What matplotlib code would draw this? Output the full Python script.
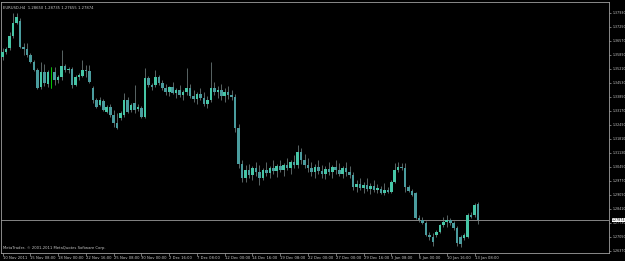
"""
EURUSD,H4 candles in the MetaTrader look: black background, price scale on the right.
"""

import numpy as np
import matplotlib.pyplot as plt

# OHLC values, oldest bar first (138 bars)
opens = [
    # bars 0-45
    1.3579, 1.3603, 1.3623, 1.3681, 1.3744, 1.3754, 1.3628, 1.3618, 1.3589, 1.3555,
    1.3516, 1.3433, 1.3506, 1.3448, 1.3492, 1.3506, 1.3467, 1.3482, 1.3535, 1.3516,
    1.3521, 1.3443, 1.3482, 1.3487, 1.3516, 1.3511, 1.3429, 1.3370, 1.3346, 1.3365,
    1.3312, 1.3336, 1.3297, 1.3258, 1.3283, 1.3297, 1.3370, 1.3322, 1.3356, 1.3326,
    1.3331, 1.3288, 1.3477, 1.3443, 1.3443, 1.3482,
    # bars 46-108
    1.3453, 1.3429, 1.3409, 1.3433, 1.3404, 1.3419, 1.3394, 1.3409, 1.3429, 1.3390,
    1.3375, 1.3399, 1.3380, 1.3351, 1.3370, 1.3429, 1.3409, 1.3419, 1.3390, 1.3409,
    1.3394, 1.3385, 1.3234, 1.3059, 1.2991, 1.3030, 1.3006, 1.3040, 1.3020, 1.2991,
    1.3030, 1.3015, 1.3040, 1.3025, 1.3049, 1.3030, 1.3054, 1.3040, 1.3069, 1.3054,
    1.3118, 1.3079, 1.3054, 1.3040, 1.3020, 1.3045, 1.3025, 1.3011, 1.3035, 1.3020,
    1.3045, 1.3030, 1.3011, 1.3040, 1.3020, 1.3006, 1.2947, 1.2962, 1.2943, 1.2957,
    1.2938, 1.2952, 1.2933,
    # bars 109-137
    1.2938, 1.2918, 1.2933, 1.2923, 1.2972, 1.3030, 1.3045, 1.3040, 1.2947, 1.2928,
    1.2918, 1.2797, 1.2787, 1.2772, 1.2714, 1.2705, 1.2714, 1.2729, 1.2763, 1.2777,
    1.2787, 1.2772, 1.2748, 1.2705, 1.2700, 1.2705, 1.2811, 1.2811, 1.28650,
]
highs = [
    # bars 0-45
    1.3623, 1.3628, 1.3701, 1.3793, 1.3793, 1.3769, 1.3647, 1.3647, 1.3599, 1.3565,
    1.3526, 1.3555, 1.3545, 1.3516, 1.3531, 1.3531, 1.3492, 1.3613, 1.3545, 1.3531,
    1.3531, 1.3492, 1.3501, 1.3565, 1.3540, 1.3540, 1.3438, 1.3380, 1.3385, 1.3375,
    1.3346, 1.3351, 1.3322, 1.3307, 1.3317, 1.3404, 1.3385, 1.3356, 1.3443, 1.3351,
    1.3341, 1.3526, 1.3487, 1.3453, 1.3516, 1.3492,
    # bars 46-108
    1.3467, 1.3448, 1.3438, 1.3458, 1.3429, 1.3443, 1.3419, 1.3526, 1.3448, 1.3419,
    1.3409, 1.3429, 1.3409, 1.3390, 1.3555, 1.3458, 1.3438, 1.3448, 1.3429, 1.3438,
    1.3419, 1.3399, 1.3254, 1.3079, 1.3054, 1.3059, 1.3049, 1.3069, 1.3054, 1.3040,
    1.3069, 1.3049, 1.3079, 1.3059, 1.3079, 1.3064, 1.3088, 1.3079, 1.3103, 1.3152,
    1.3137, 1.3108, 1.3088, 1.3069, 1.3059, 1.3079, 1.3054, 1.3049, 1.3069, 1.3054,
    1.3079, 1.3064, 1.3049, 1.3069, 1.3049, 1.3020, 1.2981, 1.2991, 1.2972, 1.2991,
    1.2967, 1.2981, 1.2962,
    # bars 109-137
    1.2952, 1.2967, 1.2947, 1.2981, 1.3064, 1.3069, 1.3064, 1.3064, 1.2957, 1.2938,
    1.2923, 1.2811, 1.2802, 1.2782, 1.2729, 1.2724, 1.2739, 1.2768, 1.2802, 1.2811,
    1.2797, 1.2782, 1.2758, 1.2714, 1.2724, 1.2821, 1.2826, 1.2870, 1.28735,
]
lows = [
    # bars 0-45
    1.3565, 1.3594, 1.3613, 1.3671, 1.3740, 1.3623, 1.3589, 1.3579, 1.3550, 1.3511,
    1.3424, 1.3424, 1.3438, 1.3433, 1.3429, 1.3443, 1.3453, 1.3467, 1.3506, 1.3501,
    1.3429, 1.3438, 1.3467, 1.3482, 1.3482, 1.3453, 1.3356, 1.3331, 1.3341, 1.3317,
    1.3307, 1.3288, 1.3239, 1.3229, 1.3273, 1.3288, 1.3307, 1.3312, 1.3307, 1.3317,
    1.3283, 1.3283, 1.3433, 1.3419, 1.3433, 1.3443,
    # bars 46-108
    1.3419, 1.3394, 1.3390, 1.3399, 1.3380, 1.3385, 1.3370, 1.3394, 1.3380, 1.3360,
    1.3351, 1.3370, 1.3341, 1.3331, 1.3360, 1.3394, 1.3380, 1.3370, 1.3360, 1.3375,
    1.3370, 1.3215, 1.3040, 1.2972, 1.2972, 1.2991, 1.2981, 1.3001, 1.2957, 1.2981,
    1.3001, 1.2991, 1.3011, 1.2996, 1.3020, 1.3001, 1.3030, 1.3011, 1.3040, 1.3040,
    1.3059, 1.3040, 1.3020, 1.3001, 1.2991, 1.3011, 1.2991, 1.2986, 1.3006, 1.2991,
    1.3011, 1.3001, 1.2991, 1.3001, 1.2991, 1.2933, 1.2923, 1.2933, 1.2918, 1.2928,
    1.2913, 1.2923, 1.2918,
    # bars 109-137
    1.2913, 1.2908, 1.2918, 1.2918, 1.2967, 1.3020, 1.3030, 1.2923, 1.2923, 1.2904,
    1.2792, 1.2777, 1.2768, 1.2709, 1.2690, 1.2661, 1.2705, 1.2724, 1.2753, 1.2753,
    1.2763, 1.2739, 1.2661, 1.2656, 1.2690, 1.2700, 1.2797, 1.2802, 1.27655,
]
closes = [
    # bars 0-45
    1.3603, 1.3618, 1.3681, 1.3744, 1.3774, 1.3628, 1.3618, 1.3589, 1.3555, 1.3516,
    1.3429, 1.3506, 1.3453, 1.3506, 1.3492, 1.3467, 1.3482, 1.3535, 1.3516, 1.3521,
    1.3443, 1.3482, 1.3492, 1.3516, 1.3511, 1.3458, 1.3370, 1.3336, 1.3370, 1.3322,
    1.3336, 1.3297, 1.3258, 1.3234, 1.3307, 1.3370, 1.3312, 1.3346, 1.3322, 1.3336,
    1.3288, 1.3477, 1.3443, 1.3433, 1.3482, 1.3453,
    # bars 46-108
    1.3429, 1.3409, 1.3433, 1.3404, 1.3419, 1.3394, 1.3409, 1.3429, 1.3390, 1.3375,
    1.3399, 1.3380, 1.3351, 1.3370, 1.3429, 1.3409, 1.3419, 1.3390, 1.3409, 1.3394,
    1.3385, 1.3234, 1.3059, 1.2991, 1.3030, 1.3006, 1.3040, 1.3020, 1.2991, 1.3030,
    1.3015, 1.3040, 1.3025, 1.3049, 1.3030, 1.3054, 1.3040, 1.3069, 1.3054, 1.3118,
    1.3079, 1.3054, 1.3040, 1.3020, 1.3045, 1.3025, 1.3011, 1.3035, 1.3020, 1.3045,
    1.3030, 1.3011, 1.3040, 1.3020, 1.3006, 1.2947, 1.2962, 1.2943, 1.2957, 1.2938,
    1.2952, 1.2933, 1.2943,
    # bars 109-137
    1.2918, 1.2933, 1.2923, 1.2972, 1.3030, 1.3045, 1.3040, 1.2947, 1.2928, 1.2908,
    1.2797, 1.2787, 1.2772, 1.2714, 1.2705, 1.2680, 1.2729, 1.2763, 1.2777, 1.2787,
    1.2772, 1.2748, 1.2676, 1.2671, 1.2714, 1.2811, 1.2802, 1.2860, 1.27874,
]

time_labels = [
    "10 Nov 2011", "15 Nov 08:00", "18 Nov 00:00", "22 Nov 16:00", "25 Nov 08:00",
    "30 Nov 00:00", "2 Dec 16:00", "7 Dec 08:00", "12 Dec 00:00", "14 Dec 16:00",
    "19 Dec 08:00", "22 Dec 00:00", "27 Dec 00:00", "29 Dec 16:00", "3 Jan 08:00",
    "6 Jan 00:00", "10 Jan 16:00", "13 Jan 08:00",
]
price_ticks = [
    1.37930, 1.37250, 1.36570, 1.35890, 1.35210, 1.34530, 1.33850, 1.33170, 1.32490,
    1.31810, 1.31130, 1.30450, 1.29770, 1.29090, 1.28410, 1.27730, 1.27050, 1.26370,
]

symbol = "EURUSD,H4"
bars_per_label = 8

BG = "#000000"
FG = "#c8c8c8"
FRAME = "#a0a0a0"
BULL = "#46c6a6"
BEAR = "#4a9c9e"
WICK = "#7c8c8c"
DOJI = "#00c800"
FS = 2.7
FS_Y = 2.35

o = np.array(opens)
h = np.array(highs)
l = np.array(lows)
c = np.array(closes)
x = np.arange(len(o))

fig = plt.figure(figsize=(6.25, 2.61), dpi=100, facecolor=BG)
ax = fig.add_axes([0.0016, 0.0307, 0.973, 0.9617], facecolor=BG)

# mèches puis corps
ax.vlines(x, l, h, color=WICK, linewidth=0.5, zorder=2)
up = c > o
down = c < o
flat = c == o
ax.bar(x[up], (c - o)[up], bottom=o[up], width=0.74, color=BULL, linewidth=0, zorder=3)
ax.bar(x[down], (c - o)[down], bottom=o[down], width=0.74, color=BEAR, linewidth=0, zorder=3)
ax.vlines(x[flat], l[flat], h[flat], color=DOJI, linewidth=0.7, zorder=4)

# ligne du dernier prix
last = closes[-1]
ax.axhline(last, color="#9a9a9a", linewidth=0.6, zorder=1)

ax.set_xlim(-0.49, 174.8)
ax.set_ylim(1.26266, 1.38465)

ax.yaxis.tick_right()
ax.set_yticks(price_ticks)
ax.set_yticklabels([f"{p:.5f}" for p in price_ticks])
ax.tick_params(axis="y", colors=FRAME, labelcolor=FG, labelsize=FS_Y, length=1.5, width=0.5, pad=0.8)

ticks = [i * bars_per_label for i in range(len(time_labels))]
ax.set_xticks(ticks)
ax.set_xticklabels(time_labels, ha="left")
ax.tick_params(axis="x", colors=FRAME, labelcolor=FG, labelsize=FS, length=2, width=0.5, pad=0.5)

for side in ["left", "right", "top", "bottom"]:
    ax.spines[side].set_color(FRAME)
    ax.spines[side].set_linewidth(0.6)

# étiquette du prix courant
ax.annotate(f"{last:.5f}", xy=(1.0, last), xycoords=("axes fraction", "data"),
            xytext=(2.0, 0), textcoords="offset points", va="center", ha="left",
            fontsize=FS_Y, color="#000000",
            bbox=dict(boxstyle="square,pad=0.12", facecolor="#ffffff", edgecolor="none"))

header = f"{symbol}  {opens[-1]:.5f} {highs[-1]:.5f} {lows[-1]:.5f} {closes[-1]:.5f}"
ax.text(0.004, 0.985, header, transform=ax.transAxes, fontsize=FS, color=FG, va="top", ha="left")
ax.text(0.004, 0.012, "MetaTrader, \u00a9 2001-2011 MetaQuotes Software Corp.", transform=ax.transAxes,
        fontsize=FS, color=FG, va="bottom", ha="left")

fig.savefig("out.png", dpi=100, facecolor=BG)
plt.close(fig)
